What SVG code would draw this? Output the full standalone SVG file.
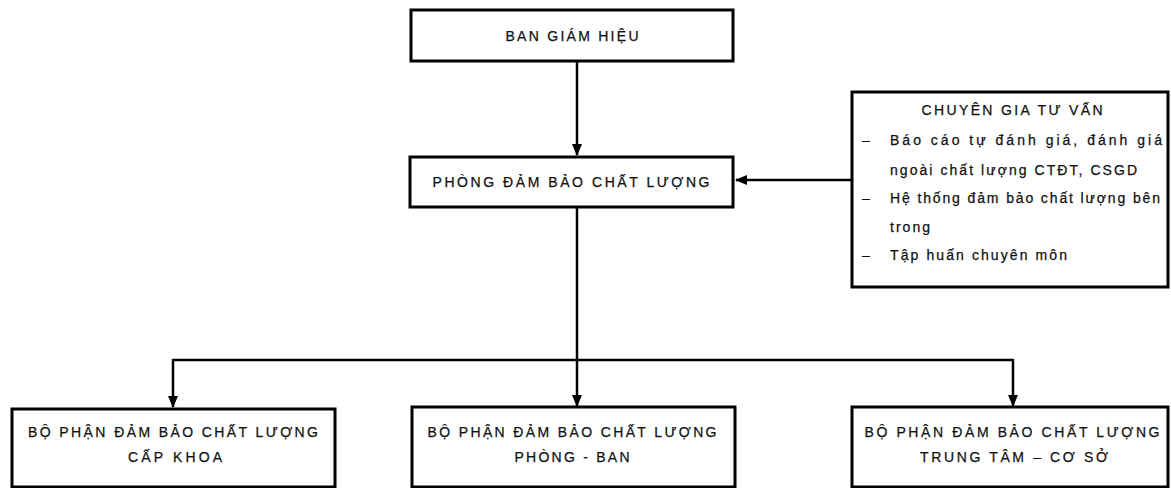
<svg xmlns="http://www.w3.org/2000/svg" width="1171" height="488" viewBox="0 0 1171 488">
<style>
.box{fill:#fff;stroke:#000;stroke-width:3}
.t{font-family:"Liberation Sans","DejaVu Sans",sans-serif;font-size:14px;fill:#111;stroke:#111;stroke-width:0.25}
.c{text-anchor:middle}
.conn{fill:none;stroke:#000;stroke-width:2.5}
</style>
<defs>
<marker id="ah" markerUnits="userSpaceOnUse" markerWidth="12" markerHeight="10" refX="11" refY="5" orient="auto">
<path d="M0,0 L12,5 L0,10 Z" fill="#000"/>
</marker>
</defs>
<rect width="1171" height="488" fill="#fff"/>
<g id="connectors">
<line class="conn" x1="577" y1="62" x2="577" y2="155" marker-end="url(#ah)"/>
<line class="conn" x1="852" y1="180" x2="736" y2="180" marker-end="url(#ah)"/>
<polyline class="conn" points="577,208 577,360"/>
<polyline class="conn" points="173,360 1013,360"/>
<line class="conn" x1="173" y1="359" x2="173" y2="407" marker-end="url(#ah)"/>
<line class="conn" x1="577" y1="359" x2="577" y2="406" marker-end="url(#ah)"/>
<line class="conn" x1="1013" y1="359" x2="1013" y2="406" marker-end="url(#ah)"/>
</g>
<g id="ban-giam-hieu">
<rect class="box" x="411" y="10" width="322" height="51"/>
<text class="t c" x="572" y="41" textLength="133" lengthAdjust="spacing">BAN GIÁM HIỆU</text>
</g>
<g id="phong-dbcl">
<rect class="box" x="410" y="157" width="323" height="50"/>
<text class="t c" x="571" y="187" textLength="277" lengthAdjust="spacing">PHÒNG ĐẢM BẢO CHẤT LƯỢNG</text>
</g>
<g id="chuyen-gia">
<rect class="box" x="852" y="92" width="316" height="195"/>
<text class="t c" x="1012" y="115" textLength="181" lengthAdjust="spacing">CHUYÊN GIA TƯ VẤN</text>
<text class="t" x="862" y="145">–</text>
<text class="t" x="890" y="145" textLength="272" lengthAdjust="spacing">Báo cáo tự đánh giá, đánh giá</text>
<text class="t" x="890" y="175" textLength="247" lengthAdjust="spacing">ngoài chất lượng CTĐT, CSGD</text>
<text class="t" x="862" y="203">–</text>
<text class="t" x="890" y="203" textLength="270" lengthAdjust="spacing">Hệ thống đảm bảo chất lượng bên</text>
<text class="t" x="890" y="232" textLength="40" lengthAdjust="spacing">trong</text>
<text class="t" x="862" y="260">–</text>
<text class="t" x="890" y="260" textLength="177" lengthAdjust="spacing">Tập huấn chuyên môn</text>
</g>
<g id="bp-cap-khoa">
<rect class="box" x="12" y="409" width="323" height="78"/>
<text class="t c" x="173" y="437" textLength="290" lengthAdjust="spacing">BỘ PHẬN ĐẢM BẢO CHẤT LƯỢNG</text>
<text class="t c" x="175" y="462" textLength="94" lengthAdjust="spacing">CẤP KHOA</text>
</g>
<g id="bp-phong-ban">
<rect class="box" x="412" y="407" width="323" height="80"/>
<text class="t c" x="572" y="437" textLength="289" lengthAdjust="spacing">BỘ PHẬN ĐẢM BẢO CHẤT LƯỢNG</text>
<text class="t c" x="572" y="462" textLength="115" lengthAdjust="spacing">PHÒNG - BAN</text>
</g>
<g id="bp-trung-tam">
<rect class="box" x="852" y="407" width="316" height="80"/>
<text class="t c" x="1012" y="437" textLength="295" lengthAdjust="spacing">BỘ PHẬN ĐẢM BẢO CHẤT LƯỢNG</text>
<text class="t c" x="1014" y="462" textLength="188" lengthAdjust="spacing">TRUNG TÂM – CƠ SỞ</text>
</g>
</svg>
